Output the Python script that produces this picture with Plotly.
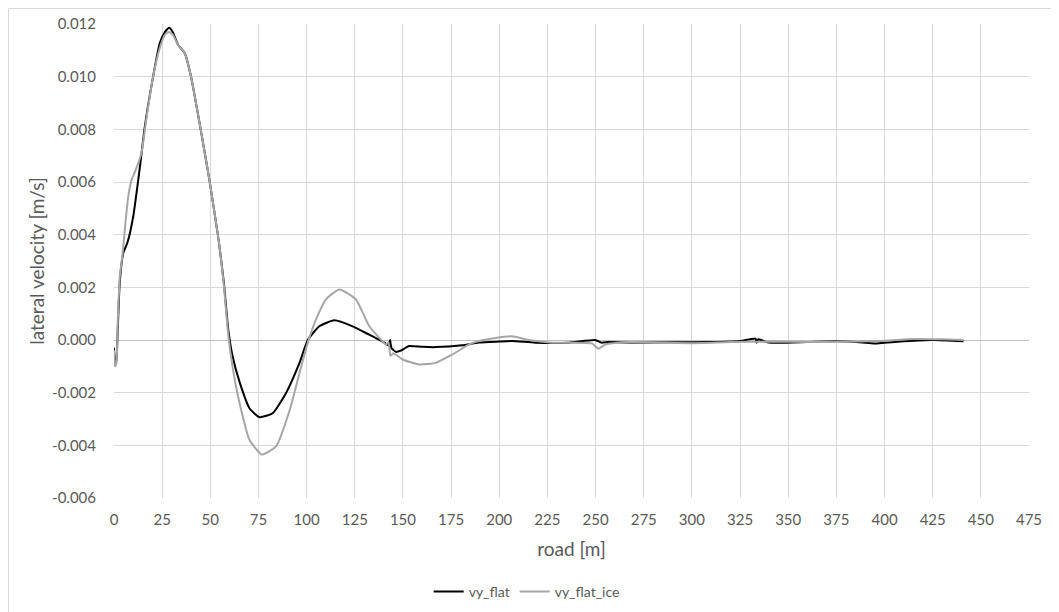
import plotly.graph_objects as go

# ---- data ----
flat_x = [0, 0.5, 1.2, 2, 3, 4.8, 7, 10, 13.5, 16, 20.3, 23.8, 26.5, 28.6, 30.5, 33.3, 36.7, 40,
          45, 49.7, 54.3, 57, 59.3, 61.5, 65.2, 70.4, 75.6, 82.5, 89.4, 96.3, 100.6, 106.6, 114.4,
          123.9, 132.5, 140.3, 142.5, 143.3, 144, 146.3, 149, 153.2, 160, 167, 180.8, 189.4,
          200, 206.6, 218.7, 236, 249.8, 253, 256.7, 270, 290, 310, 325, 333, 333.6, 334.5,
          340, 360, 375, 390, 395, 400, 410, 425, 441]
flat_y = [-0.0003, -0.0009, -0.0008, 0.0005, 0.0022, 0.0033, 0.0037, 0.0047, 0.0066, 0.0081,
          0.0100, 0.01129, 0.0117, 0.01186, 0.0117, 0.0112, 0.0109, 0.0100, 0.0080, 0.0060,
          0.0038, 0.0022, 0.0004, -0.0006, -0.0016, -0.0026, -0.00293, -0.00277, -0.0020, -0.00087,
          0.0, 0.00052, 0.00075, 0.00052, 0.0002, -0.0001, -0.0002, 0.0000, -0.0003, -0.00045,
          -0.0004, -0.00023, -0.00026, -0.00027, -0.0002, -0.0001, -0.00006, -0.00004, -0.0001,
          -0.0001, 0.0, -0.0001, -0.00008, -0.0001, -0.00009, -0.00008, -0.00004, 0.00005,
          -0.0001, 0.00003, -0.0001, -0.00008, -0.00005, -0.0001, -0.00013, -0.0001, -0.00005,
          0.0, -0.00005]

ice_x = [0, 0.5, 1.2, 2, 3, 4.5, 6, 7.5, 9.2, 11, 14.3, 17, 20.3, 23.8, 26.5, 28.5, 30.5, 33.3,
         36.7, 40, 45, 49.7, 54.3, 57, 59.3, 61.5, 65.2, 70.4, 76.8, 84.2, 91.3, 96.3, 100.6, 104.9,
         110, 117, 125.6, 132.5, 139.4, 141.1, 142.5, 143.5, 145, 149.8, 158.4, 167, 175.6,
         184.3, 189.4, 198, 206.6, 215.3, 227.4, 248, 251.5, 255, 262, 280, 300, 320, 340, 360,
         380, 400, 415, 430, 441]
ice_y = [-0.0004, -0.0010, -0.0009, 0.0008, 0.0024, 0.0033, 0.0045, 0.0055, 0.0061, 0.0064,
         0.00712, 0.0085, 0.0100, 0.0111, 0.0116, 0.0117, 0.0116, 0.0112, 0.0109, 0.0100, 0.0080,
         0.0060, 0.0038, 0.0021, 0.0002, -0.0010, -0.0024, -0.0038, -0.00435, -0.00403, -0.00264,
         -0.00125, -0.0001, 0.00078, 0.00154, 0.00192, 0.00154, 0.00052, -0.00005, -0.00017,
         -0.0001, -0.0006, -0.0005, -0.00074, -0.00093, -0.00087, -0.00055, -0.00017, -0.00004,
         0.00008, 0.00014, 0.0, -0.0001, -0.00013, -0.00033, -0.00017, -0.0001, -0.0001,
         -0.00012, -0.00008, -0.00006, -0.00008, -0.00006, -0.00003, 0.00004, 0.00003, 0.0]

x_ticks = list(range(0, 476, 25))
y_ticks = [-0.006, -0.004, -0.002, 0.0, 0.002, 0.004, 0.006, 0.008, 0.010, 0.012]
y_tick_text = ["-0.006", "-0.004", "-0.002", "0.000", "0.002", "0.004", "0.006", "0.008",
               "0.010", "0.012"]

FONT = "Lato, Open Sans, sans-serif"
TXT = "#595959"

fig = go.Figure()
fig.add_trace(go.Scatter(x=flat_x, y=flat_y, mode="lines", name="vy_flat",
                         line=dict(color="#000000", width=2, shape="spline", smoothing=0.5)))
fig.add_trace(go.Scatter(x=ice_x, y=ice_y, mode="lines", name="vy_flat_ice",
                         line=dict(color="#a6a6a6", width=2, shape="spline", smoothing=0.5)))

# page has an 8px body margin, so the figure is offset by (8, 8)
fig.update_layout(
    width=1051, height=604,
    margin=dict(l=106, r=30, t=16, b=114, autoexpand=False),
    paper_bgcolor="white", plot_bgcolor="white",
    font=dict(family=FONT, color=TXT, size=15),
    showlegend=True,
    legend=dict(orientation="h", x=0.451, xanchor="center", y=-0.198, yanchor="middle",
                font=dict(size=14, color=TXT), itemwidth=30),
    xaxis=dict(range=[0, 475], tickvals=x_ticks, showgrid=True, gridcolor="#d9d9d9",
               gridwidth=1, zeroline=False, showline=False, ticks="outside", ticklen=8,
               tickcolor="rgba(0,0,0,0)", automargin=False,
               tickfont=dict(size=15, color=TXT),
               title=dict(text="road [m]", font=dict(size=19, color=TXT), standoff=15)),
    yaxis=dict(range=[-0.006, 0.012], tickvals=y_ticks, ticktext=y_tick_text, showgrid=True,
               gridcolor="#d9d9d9", gridwidth=1, zeroline=True, zerolinecolor="#bfbfbf",
               zerolinewidth=1, showline=False, ticks="outside", ticklen=14,
               tickcolor="rgba(0,0,0,0)", automargin=False,
               tickfont=dict(size=15, color=TXT),
               title=dict(text="lateral velocity [m/s]", font=dict(size=19, color=TXT),
                          standoff=2)),
    shapes=[dict(type="rect", xref="paper", yref="paper",
                 x0=-0.1153, x1=1.0273, y0=-0.26, y1=1.0327,
                 line=dict(color="#d9d9d9", width=1), fillcolor="rgba(0,0,0,0)", layer="below")],
)

fig.write_html("out.html")
